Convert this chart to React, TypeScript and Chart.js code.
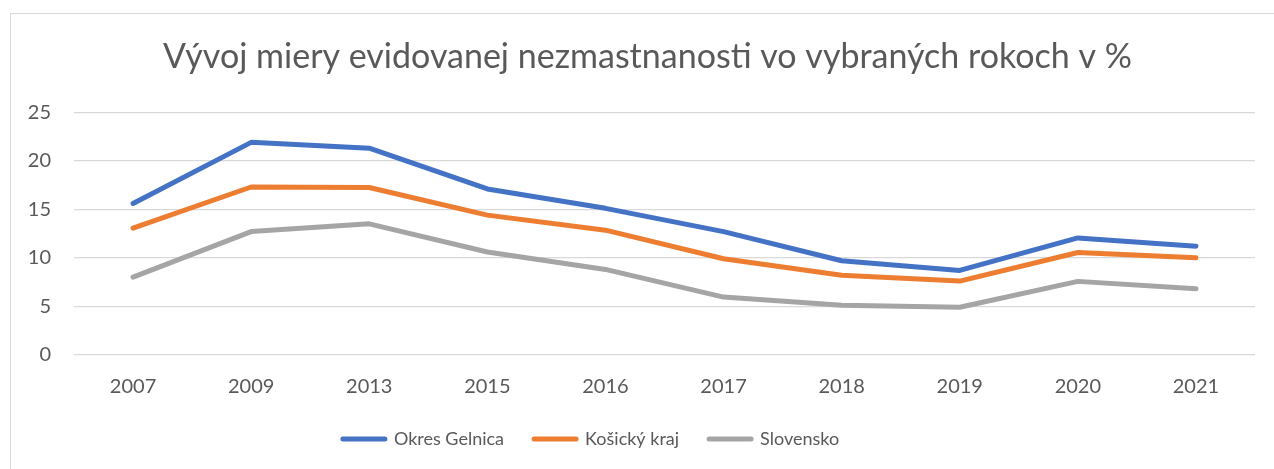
import React, { useEffect, useRef } from "react";
import { Chart, registerables } from "chart.js";

Chart.register(...registerables);

const years = ["2007", "2009", "2013", "2015", "2016", "2017", "2018", "2019", "2020", "2021"];
const gelnica = [15.6, 21.9, 21.3, 17.1, 15.1, 12.7, 9.7, 8.7, 12.05, 11.2];
const kosickyKraj = [13.05, 17.3, 17.25, 14.4, 12.85, 9.9, 8.2, 7.6, 10.55, 10.0];
const slovensko = [8.0, 12.7, 13.5, 10.6, 8.8, 5.95, 5.1, 4.9, 7.57, 6.8];
const seriesNames = ["Okres Gelnica", "Košický kraj", "Slovensko"];
const seriesColors = ["#4472C4", "#ED7D31", "#A5A5A5"];
const titleText = "Vývoj miery evidovanej nezmastnanosti vo vybraných rokoch v %";

const TEXT = "#595959";
const FONT = "Lato, 'Open Sans', sans-serif";

export default function App() {
  const ref = useRef<HTMLCanvasElement | null>(null);

  useEffect(() => {
    if (!ref.current) return;
    const values = [gelnica, kosickyKraj, slovensko];
    const shiftPlugin = {
      id: "shiftBoxes",
      afterLayout(chart: any) {
        const lg = chart.legend;
        if (lg) {
          lg.left = 0;
          lg.right = 1182;
        }
        const tb = chart.titleBlock;
        if (tb) {
          tb.left = 20;
          tb.right = 1275;
        }
      },
    };
    const chart = new Chart(ref.current, {
      type: "line",
      data: {
        labels: years,
        datasets: values.map((v, i) => ({
          label: seriesNames[i],
          data: v,
          borderColor: seriesColors[i],
          backgroundColor: seriesColors[i],
          borderWidth: 5,
          borderCapStyle: "round" as const,
          borderJoinStyle: "round" as const,
          pointRadius: 0,
          pointHoverRadius: 0,
          tension: 0,
          fill: false,
        })),
      },
      options: {
        animation: false,
        responsive: true,
        maintainAspectRatio: false,
        layout: { padding: { left: 0, right: 19, top: 0, bottom: 11 } },
        plugins: {
          title: {
            display: true,
            text: titleText,
            color: TEXT,
            font: { family: FONT, size: 34, weight: "normal" as const, lineHeight: 1.2 },
            padding: { top: 36.6, bottom: 34.9 },
          },
          legend: {
            display: true,
            position: "bottom",
            labels: {
              color: TEXT,
              font: { family: FONT, size: 18 },
              usePointStyle: true,
              pointStyleWidth: 42,
              padding: 30,
              generateLabels: (c: any) =>
                c.data.datasets.map((ds: any, i: number) => ({
                  text: ds.label,
                  fillStyle: ds.borderColor,
                  strokeStyle: ds.borderColor,
                  lineWidth: 5,
                  lineCap: "round",
                  pointStyle: "line",
                  hidden: false,
                  datasetIndex: i,
                  fontColor: TEXT,
                })),
            },
          },
          tooltip: { enabled: false },
        },
        scales: {
          x: {
            offset: true,
            grid: { display: false, drawTicks: false },
            border: { display: false },
            ticks: {
              color: TEXT,
              font: { family: FONT, size: 20 },
              padding: 20,
              maxRotation: 0,
              autoSkip: false,
            },
            afterFit(scale: any) {
              scale.height = 45.2;
            },
          },
          y: {
            min: 0,
            max: 25,
            grid: { color: "#d9d9d9", lineWidth: 1.2, drawTicks: false },
            border: { display: false },
            ticks: {
              stepSize: 5,
              color: TEXT,
              font: { family: FONT, size: 20 },
              padding: 23,
            },
            afterFit(scale: any) {
              scale.width = 74;
            },
          },
        },
      },
      plugins: [shiftPlugin],
    } as any);
    return () => chart.destroy();
  }, []);

  return (
    <div
      style={{
        position: "absolute",
        left: 0,
        top: 0,
        width: 1274,
        height: 469,
        overflow: "hidden",
        background: "#ffffff",
      }}
    >
      <div
        style={{
          position: "absolute",
          left: 10,
          top: 13,
          width: 1300,
          height: 500,
          border: "1px solid #d9d9d9",
          boxSizing: "border-box",
        }}
      />
      <div style={{ position: "absolute", left: 0, top: 0, width: 1274, height: 469 }}>
        <canvas ref={ref} />
      </div>
    </div>
  );
}
